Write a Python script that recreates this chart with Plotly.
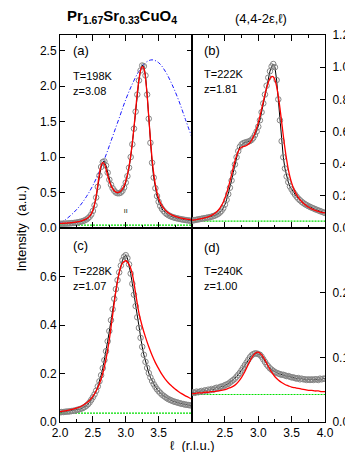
import plotly.graph_objects as go

# scan positions (r.l.u.)
ELL_SCAN = [
    2.000, 2.025, 2.050, 2.075, 2.100, 2.125, 2.150, 2.175, 2.200, 2.225,
    2.250, 2.275, 2.300, 2.325, 2.350, 2.375, 2.400, 2.425, 2.450, 2.475,
    2.500, 2.525, 2.550, 2.575, 2.600, 2.625, 2.650, 2.675, 2.700, 2.725,
    2.750, 2.775, 2.800, 2.825, 2.850, 2.875, 2.900, 2.925, 2.950, 2.975,
    3.000, 3.025, 3.050, 3.075, 3.100, 3.125, 3.150, 3.175, 3.200, 3.225,
    3.250, 3.275, 3.300, 3.325, 3.350, 3.375, 3.400, 3.425, 3.450, 3.475,
    3.500, 3.525, 3.550, 3.575, 3.600, 3.625, 3.650, 3.675, 3.700, 3.725,
    3.750, 3.775, 3.800, 3.825, 3.850, 3.875, 3.900, 3.925, 3.950, 3.975,
    4.000,
]
ELL_COARSE = [
    2.00, 2.05, 2.10, 2.15, 2.20, 2.25, 2.30, 2.35, 2.40, 2.45,
    2.50, 2.55, 2.60, 2.65, 2.70, 2.75, 2.80, 2.85, 2.90, 2.95,
    3.00, 3.05, 3.10, 3.15, 3.20, 3.25, 3.30, 3.35, 3.40, 3.45,
    3.50, 3.55, 3.60, 3.65, 3.70, 3.75, 3.80, 3.85, 3.90, 3.95,
    4.00,
]
ELL_ENV = [2.0, 2.1, 2.2, 2.3, 2.4, 2.5, 2.6, 2.7, 2.8, 2.9, 3.0,
           3.1, 3.2, 3.3, 3.4, 3.5, 3.6, 3.7, 3.8, 3.9, 4.0]
ELL_BASE = [2.0, 4.0]

# (a) T=198K
DATA_A = [
    0.060, 0.060, 0.061, 0.062, 0.063, 0.064, 0.066, 0.068, 0.070, 0.073,
    0.076, 0.080, 0.085, 0.091, 0.098, 0.108, 0.120, 0.136, 0.158, 0.190,
    0.240, 0.320, 0.430, 0.580, 0.740, 0.860, 0.930, 0.940, 0.880, 0.780,
    0.680, 0.610, 0.560, 0.525, 0.500, 0.490, 0.490, 0.500, 0.525, 0.570,
    0.640, 0.730, 0.850, 1.000, 1.180, 1.400, 1.640, 1.880, 2.080, 2.220,
    2.290, 2.280, 2.150, 1.880, 1.540, 1.200, 0.920, 0.710, 0.560, 0.450,
    0.370, 0.310, 0.270, 0.240, 0.215, 0.195, 0.180, 0.168, 0.158, 0.150,
    0.143, 0.137, 0.132, 0.127, 0.122, 0.118, 0.114, 0.110, 0.107, 0.104,
    0.100,
]
FIT_A = [
    0.065, 0.066, 0.067, 0.068, 0.070, 0.071, 0.073, 0.075, 0.078, 0.081,
    0.085, 0.089, 0.094, 0.100, 0.108, 0.118, 0.130, 0.146, 0.168, 0.200,
    0.250, 0.330, 0.450, 0.610, 0.770, 0.880, 0.920, 0.900, 0.830, 0.740,
    0.660, 0.600, 0.555, 0.525, 0.505, 0.500, 0.505, 0.520, 0.550, 0.595,
    0.660, 0.750, 0.870, 1.020, 1.200, 1.420, 1.660, 1.900, 2.090, 2.220,
    2.275, 2.250, 2.110, 1.870, 1.560, 1.250, 0.980, 0.770, 0.610, 0.500,
    0.420, 0.360, 0.315, 0.280, 0.252, 0.230, 0.212, 0.197, 0.184, 0.173,
    0.164, 0.156, 0.149, 0.143, 0.138, 0.133, 0.129, 0.125, 0.122, 0.119,
    0.116,
]
ENV_A = [0.07, 0.13, 0.21, 0.31, 0.44, 0.60, 0.80, 1.03, 1.29, 1.55, 1.81,
         2.03, 2.21, 2.33, 2.37, 2.33, 2.21, 2.03, 1.81, 1.55, 1.29]
BASE_A = [0.040, 0.040]
RES_MARK_ELL = [3.0]
RES_MARK_I = [0.24]

# (b) T=222K
DATA_B = [
    0.045, 0.047, 0.049, 0.051, 0.053, 0.055, 0.057, 0.059, 0.061, 0.063,
    0.065, 0.067, 0.070, 0.073, 0.077, 0.082, 0.088, 0.096, 0.107, 0.122,
    0.145, 0.175, 0.210, 0.250, 0.295, 0.345, 0.395, 0.440, 0.478, 0.505,
    0.520, 0.527, 0.531, 0.534, 0.537, 0.541, 0.548, 0.560, 0.578, 0.600,
    0.630, 0.670, 0.720, 0.775, 0.830, 0.885, 0.935, 0.975, 1.005, 1.020,
    1.000, 0.920, 0.800, 0.670, 0.540, 0.440, 0.370, 0.320, 0.285, 0.258,
    0.240, 0.223, 0.208, 0.194, 0.182, 0.172, 0.163, 0.155, 0.148, 0.142,
    0.136, 0.131, 0.126, 0.122, 0.117, 0.113, 0.109, 0.105, 0.101, 0.097,
    0.093,
]
FIT_B = [
    0.048, 0.049, 0.050, 0.052, 0.054, 0.056, 0.058, 0.060, 0.063, 0.066,
    0.069, 0.073, 0.078, 0.084, 0.091, 0.100, 0.110, 0.123, 0.140, 0.160,
    0.185, 0.215, 0.250, 0.290, 0.332, 0.375, 0.415, 0.450, 0.476, 0.493,
    0.502, 0.506, 0.509, 0.513, 0.520, 0.530, 0.545, 0.565, 0.590, 0.620,
    0.655, 0.695, 0.740, 0.785, 0.830, 0.870, 0.905, 0.930, 0.942, 0.940,
    0.920, 0.880, 0.820, 0.745, 0.660, 0.575, 0.495, 0.425, 0.365, 0.318,
    0.280, 0.250, 0.226, 0.206, 0.190, 0.176, 0.164, 0.154, 0.145, 0.137,
    0.130, 0.124, 0.119, 0.114, 0.110, 0.106, 0.103, 0.100, 0.097, 0.095,
    0.093,
]
BASE_B = [0.042, 0.042]

# (c) T=228K
DATA_C = [
    0.040, 0.041, 0.041, 0.042, 0.043, 0.043, 0.044, 0.045, 0.046, 0.047,
    0.049, 0.051, 0.053, 0.055, 0.058, 0.062, 0.067, 0.073, 0.081, 0.091,
    0.102, 0.114, 0.129, 0.147, 0.168, 0.193, 0.222, 0.255, 0.292, 0.333,
    0.375, 0.420, 0.465, 0.508, 0.548, 0.585, 0.617, 0.645, 0.667, 0.682,
    0.688, 0.676, 0.650, 0.612, 0.570, 0.525, 0.478, 0.432, 0.388, 0.347,
    0.310, 0.277, 0.248, 0.223, 0.202, 0.184, 0.169, 0.156, 0.145, 0.135,
    0.127, 0.120, 0.113, 0.108, 0.103, 0.098, 0.094, 0.091, 0.088, 0.085,
    0.083, 0.081, 0.079, 0.077, 0.075, 0.074, 0.072, 0.071, 0.070, 0.069,
    0.068,
]
FIT_C = [
    0.043, 0.045, 0.047, 0.050, 0.053, 0.057, 0.062, 0.069, 0.078, 0.090,
    0.106, 0.128, 0.158, 0.200, 0.260, 0.340, 0.440, 0.540, 0.615, 0.655,
    0.665, 0.650, 0.610, 0.530, 0.450, 0.395, 0.350, 0.310, 0.275, 0.245,
    0.220, 0.196, 0.177, 0.161, 0.148, 0.136, 0.126, 0.117, 0.109, 0.102,
    0.095,
]
BASE_C = [0.037, 0.037]

# (d) T=240K
DATA_D = [
    0.045, 0.046, 0.045, 0.047, 0.046, 0.047, 0.048, 0.047, 0.049, 0.048,
    0.050, 0.049, 0.051, 0.050, 0.052, 0.053, 0.052, 0.054, 0.055, 0.055,
    0.057, 0.058, 0.059, 0.061, 0.063, 0.065, 0.067, 0.070, 0.073, 0.076,
    0.080, 0.084, 0.088, 0.092, 0.096, 0.100, 0.103, 0.105, 0.106, 0.106,
    0.105, 0.104, 0.101, 0.097, 0.093, 0.089, 0.086, 0.083, 0.081, 0.079,
    0.077, 0.076, 0.075, 0.074, 0.073, 0.073, 0.072, 0.071, 0.071, 0.070,
    0.069, 0.069, 0.068, 0.067, 0.068, 0.066, 0.067, 0.066, 0.066, 0.065,
    0.066, 0.065, 0.066, 0.065, 0.066, 0.066, 0.065, 0.067, 0.066, 0.067,
    0.067,
]
FIT_D = [
    0.044, 0.044, 0.045, 0.045, 0.046, 0.046, 0.047, 0.047, 0.048, 0.049,
    0.050, 0.052, 0.054, 0.057, 0.062, 0.069, 0.078, 0.089, 0.099, 0.106,
    0.108, 0.104, 0.096, 0.086, 0.077, 0.070, 0.065, 0.061, 0.058, 0.056,
    0.054, 0.053, 0.052, 0.051, 0.050, 0.049, 0.049, 0.048, 0.048, 0.047,
    0.047,
]
BASE_D = [0.0425, 0.0425]

TICKS_A = [0.0, 0.5, 1.0, 1.5, 2.0, 2.5]
TICKS_B = [0.0, 0.2, 0.4, 0.6, 0.8, 1.0, 1.2]
TICKS_C = [0.0, 0.2, 0.4, 0.6]
TICKS_D = [0.0, 0.1, 0.2]

PANELS = [
    # (data, fit, fit_ell, baseline, xaxis, yaxis, label, temperature, z)
    (DATA_A, FIT_A, ELL_SCAN, BASE_A, "x", "y", "(a)", "T=198K", "z=3.08"),
    (DATA_B, FIT_B, ELL_SCAN, BASE_B, "x2", "y2", "(b)", "T=222K", "z=1.81"),
    (DATA_C, FIT_C, ELL_COARSE, BASE_C, "x3", "y3", "(c)", "T=228K", "z=1.07"),
    (DATA_D, FIT_D, ELL_COARSE, BASE_D, "x4", "y4", "(d)", "T=240K", "z=1.00"),
]

FONT = "Liberation Sans, Arial, sans-serif"

fig = go.Figure()

for data, fit, fit_ell, base, xa, ya, label, temp, zval in PANELS:
    fig.add_trace(go.Scatter(
        x=ELL_BASE, y=base, mode="lines", xaxis=xa, yaxis=ya,
        line=dict(color="#00e000", width=1.2, dash="2px,1px"),
    ))
    if xa == "x":
        fig.add_trace(go.Scatter(
            x=ELL_ENV, y=ENV_A, mode="lines", xaxis=xa, yaxis=ya,
            line=dict(color="#1a1aff", width=1, dash="4px,2px,1px,2px",
                      shape="spline"),
        ))
        fig.add_trace(go.Scatter(
            x=RES_MARK_ELL, y=RES_MARK_I, mode="text", text=["ıı"],
            xaxis=xa, yaxis=ya, textfont=dict(size=7, color="black", family=FONT),
        ))
    fig.add_trace(go.Scatter(
        x=ELL_SCAN, y=data, mode="lines+markers", xaxis=xa, yaxis=ya,
        line=dict(color="black", width=1),
        marker=dict(symbol="circle-open", size=5.5, color="#858585",
                    line=dict(width=1, color="#858585")),
    ))
    fig.add_trace(go.Scatter(
        x=fit_ell, y=fit, mode="lines", xaxis=xa, yaxis=ya,
        line=dict(color="#ff0000", width=1.3, shape="spline"),
    ))

xsplit = 135 / 272
ysplit = 194 / 387

common_x = dict(
    range=[2, 4], showgrid=False, zeroline=False, showline=True,
    linecolor="black", linewidth=1, ticks="inside", ticklen=6,
    tickcolor="black", dtick=0.5, tickformat=".1f",
    minor=dict(ticks="inside", ticklen=3, dtick=0.25, tickcolor="black", showgrid=False),
    tickfont=dict(family=FONT, size=12, color="black"),
)
common_y = dict(
    showgrid=False, zeroline=False, showline=True, linecolor="black",
    linewidth=1, ticks="inside", ticklen=5, tickcolor="black",
    tickformat=".1f", tickfont=dict(family=FONT, size=12, color="black"),
)

fig.update_layout(
    width=353, height=452,
    margin=dict(l=52, r=29, t=27, b=38),
    paper_bgcolor="white", plot_bgcolor="white",
    showlegend=False,
    font=dict(family=FONT, size=12, color="black"),
    xaxis=dict(common_x, domain=[0, xsplit], anchor="y", mirror="ticks",
               showticklabels=False),
    xaxis2=dict(common_x, domain=[xsplit, 1], anchor="y2", mirror="ticks",
                showticklabels=False),
    xaxis3=dict(common_x, domain=[0, xsplit], anchor="y3", mirror=True,
                tickvals=[2.0, 2.5, 3.0, 3.5]),
    xaxis4=dict(common_x, domain=[xsplit, 1], anchor="y4", mirror=True,
                tickvals=[2.5, 3.0, 3.5, 4.0]),
    yaxis=dict(common_y, domain=[ysplit, 1], anchor="x", range=[0, 2.72],
               tickvals=TICKS_A, mirror="ticks"),
    yaxis2=dict(common_y, domain=[ysplit, 1], anchor="x2", side="right",
                range=[-0.0005, 1.2005], tickvals=TICKS_B, mirror=True,
                ticklabelstandoff=4),
    yaxis3=dict(common_y, domain=[0, ysplit], anchor="x3", range=[0, 0.8],
                tickvals=TICKS_C, mirror="ticks"),
    yaxis4=dict(common_y, domain=[0, ysplit], anchor="x4", side="right",
                range=[0, 0.3], tickvals=TICKS_D, mirror=True,
                ticklabelstandoff=4),
)

# panel labels
label_pos = {"x": (0.08, 0.92, 0.79, 0.71), "x2": (0.08, 0.92, 0.80, 0.72),
             "x3": (0.08, 0.91, 0.78, 0.70), "x4": (0.08, 0.90, 0.78, 0.70)}
for data, fit, fit_ell, base, xa, ya, label, temp, zval in PANELS:
    lx, ly, ty, zy = label_pos[xa]
    xref = xa + " domain"
    yref = ya + " domain"
    fig.add_annotation(x=lx, y=ly, xref=xref, yref=yref, text=label,
                       showarrow=False, xanchor="left", yanchor="middle",
                       font=dict(family=FONT, size=13, color="black"))
    fig.add_annotation(x=lx, y=ty, xref=xref, yref=yref, text=temp,
                       showarrow=False, xanchor="left", yanchor="middle",
                       font=dict(family=FONT, size=11, color="black"))
    fig.add_annotation(x=lx, y=zy, xref=xref, yref=yref, text=zval,
                       showarrow=False, xanchor="left", yanchor="middle",
                       font=dict(family=FONT, size=11, color="black"))

fig.add_annotation(x=0.235, y=1.047, xref="paper", yref="paper",
                   text="<b>Pr<sub>1.67</sub>Sr<sub>0.33</sub>CuO<sub>4</sub></b>",
                   showarrow=False, xanchor="center", yanchor="middle",
                   font=dict(family=FONT, size=15, color="black"))
fig.add_annotation(x=0.76, y=1.043, xref="paper", yref="paper",
                   text="(4,4-2ε,ℓ)", showarrow=False, xanchor="center",
                   yanchor="middle", font=dict(family=FONT, size=13, color="black"))
fig.add_annotation(x=-0.147, y=0.5, xref="paper", yref="paper",
                   text="Intensity  (a.u.)", textangle=-90, showarrow=False,
                   xanchor="center", yanchor="middle",
                   font=dict(family=FONT, size=13, color="black"))
fig.add_annotation(x=0.5, y=-0.06, xref="paper", yref="paper",
                   text="ℓ  (r.l.u.)", showarrow=False, xanchor="center",
                   yanchor="middle", font=dict(family=FONT, size=13, color="black"))

fig.write_html("out.html")
